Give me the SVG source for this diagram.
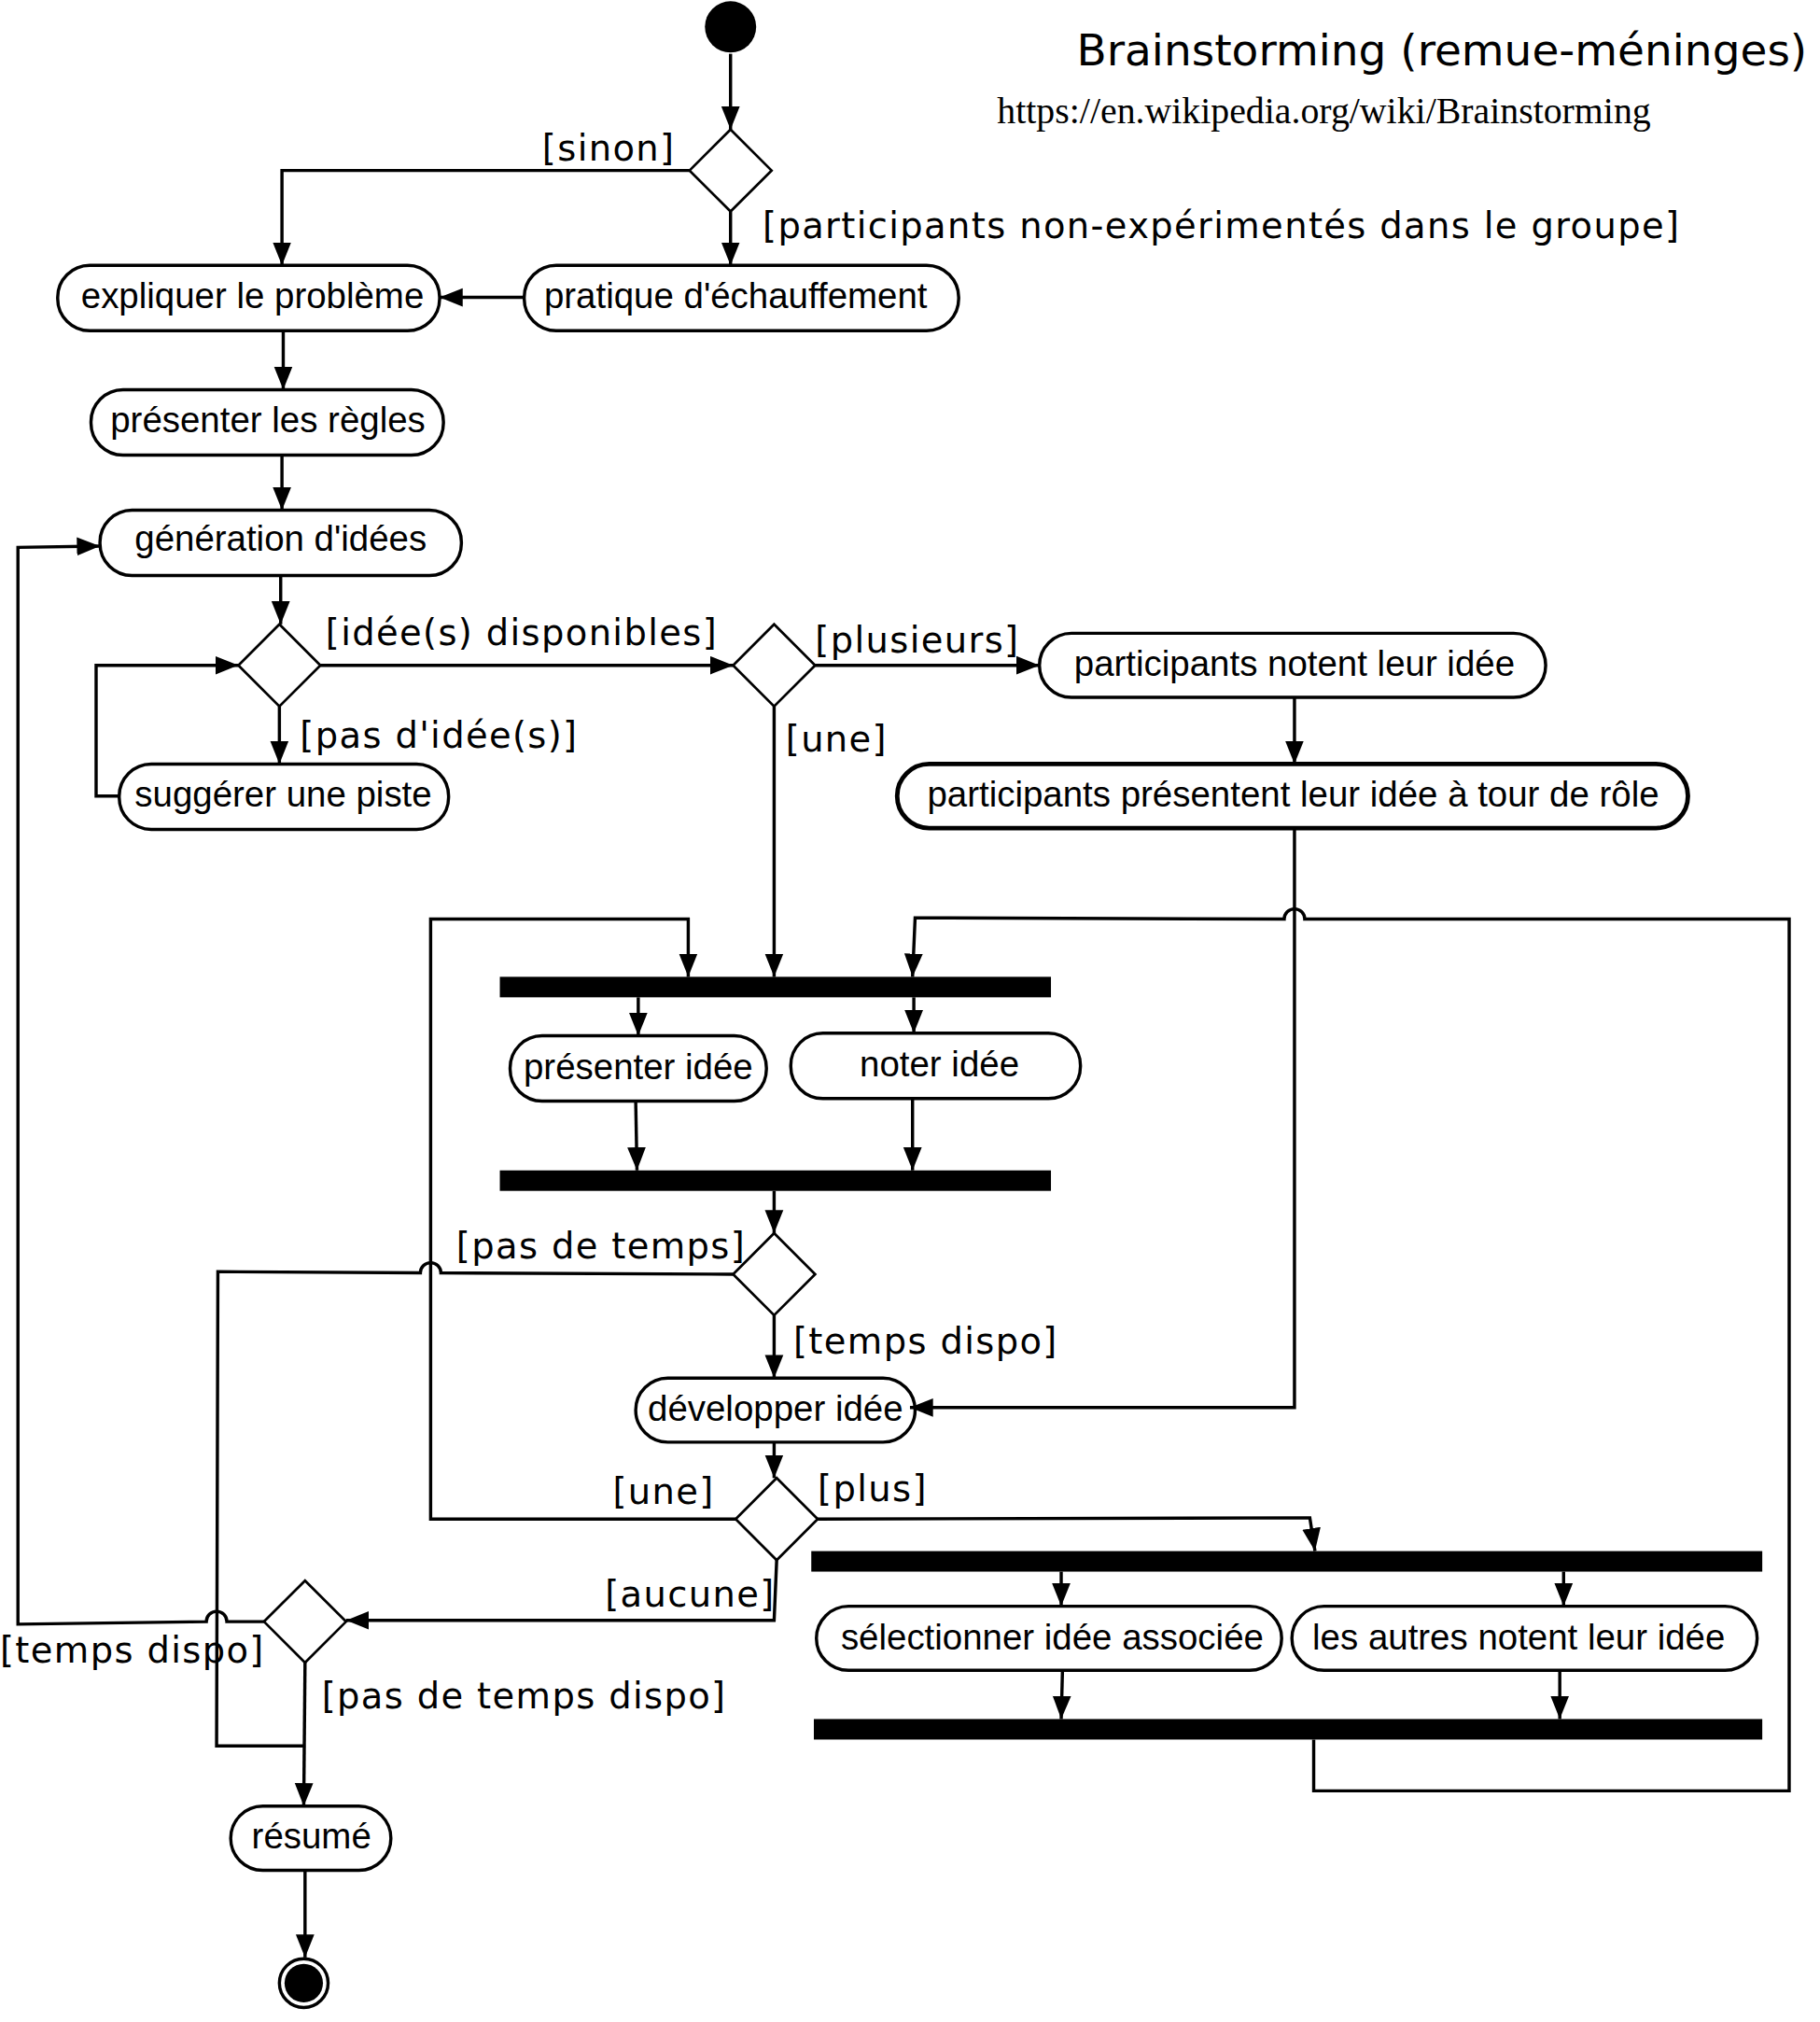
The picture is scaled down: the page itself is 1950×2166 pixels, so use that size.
<svg xmlns="http://www.w3.org/2000/svg" width="1950" height="2166" viewBox="0 0 1950 2166">
<style>
.n rect{fill:#fff;stroke:#000;stroke-width:2.5}
.n text{font-family:"Liberation Sans",Arial,sans-serif;font-size:28px;text-anchor:middle}
.l{font-family:"DejaVu Sans",sans-serif;font-size:28px;letter-spacing:1px}
.c path{fill:none;stroke:#000;stroke-width:2.5}
.d{fill:#fff;stroke:#000;stroke-width:2}
.bar{fill:#000}
</style>
<defs>
<marker id="A" viewBox="0 0 10 10" refX="10" refY="5" markerWidth="18" markerHeight="18" markerUnits="userSpaceOnUse" orient="auto"><path d="M0,1L10,5L0,9z"/></marker></defs>
<rect width="1950" height="2166" fill="#fff"/>
<g transform="scale(1.3732)">
<text x="840" y="51" font-family="DejaVu Sans,sans-serif" font-size="34" textLength="570" lengthAdjust="spacingAndGlyphs">Brainstorming (remue-méninges)</text>
<text x="778" y="96" font-family="Liberation Serif,serif" font-size="29">https://en.wikipedia.org/wiki/Brainstorming</text>
<g id="start"><circle cx="570" cy="21" r="20"/></g>
<g id="end"><circle cx="237" cy="1547" r="19" fill="#fff" stroke="#000" stroke-width="2.5"/><circle cx="237" cy="1547" r="15"/></g>
<g id="diamonds">
<path id="d1" class="d" d="M570,101L602,133L570,165L538,133z"/>
<path id="d2" class="d" d="M218,487L250,519L218,551L186,519z"/>
<path id="d3" class="d" d="M604,487L636,519L604,551L572,519z"/>
<path id="d5" class="d" d="M604,962L636,994L604,1026L572,994z"/>
<path id="d6" class="d" d="M606,1153L638,1185L606,1217L574,1185z"/>
<path id="d7" class="d" d="M238,1233L270,1265L238,1297L206,1265z"/>
</g>
<g id="bars">
<rect class="bar" x="390" y="762" width="430" height="16"/>
<rect class="bar" x="390" y="913" width="430" height="16"/>
<rect class="bar" x="633" y="1210" width="742" height="16"/>
<rect class="bar" x="635" y="1341" width="740" height="16"/>
</g>
<g class="n" id="nodes">
<g id="n1"><rect x="45" y="207" width="298" height="51" rx="25"/><text x="197" y="240">expliquer le problème</text></g>
<g id="n2"><rect x="409" y="207" width="339" height="51" rx="25"/><text x="574" y="240">pratique d'échauffement</text></g>
<g id="n3"><rect x="71" y="304" width="275" height="51" rx="25"/><text x="209" y="337">présenter les règles</text></g>
<g id="n4"><rect x="78" y="398" width="282" height="51" rx="25"/><text x="219" y="430">génération d'idées</text></g>
<g id="n5"><rect x="93" y="596" width="257" height="51" rx="25"/><text x="221" y="629">suggérer une piste</text></g>
<g id="n6"><rect x="811" y="494" width="395" height="50" rx="25"/><text x="1010" y="527">participants notent leur idée</text></g>
<g id="n7"><rect x="700" y="596" width="617" height="50" rx="25" style="stroke-width:3.5"/><text x="1009" y="629">participants présentent leur idée à tour de rôle</text></g>
<g id="n8"><rect x="398" y="808" width="200" height="51" rx="25"/><text x="498" y="842">présenter idée</text></g>
<g id="n9"><rect x="617" y="806" width="226" height="51" rx="25"/><text x="733" y="840">noter idée</text></g>
<g id="n10"><rect x="496" y="1075" width="218" height="50" rx="25"/><text x="605" y="1108">développer idée</text></g>
<g id="n11"><rect x="637" y="1253" width="363" height="50" rx="25"/><text x="821" y="1287">sélectionner idée associée</text></g>
<g id="n12"><rect x="1008" y="1253" width="363" height="50" rx="25"/><text x="1185" y="1287">les autres notent leur idée</text></g>
<g id="n13"><rect x="180" y="1409" width="125" height="50" rx="25"/><text x="243" y="1442">résumé</text></g>
</g>
<g class="c" id="connectors">
<path d="M570,42L570,101" marker-end="url(#A)"/>
<path d="M538,133L220,133L220,207" marker-end="url(#A)"/>
<path d="M570,165L570,207" marker-end="url(#A)"/>
<path d="M409,232L343,232" marker-end="url(#A)"/>
<path d="M221,258L221,304" marker-end="url(#A)"/>
<path d="M220,355L220,398" marker-end="url(#A)"/>
<path d="M219,449L219,487" marker-end="url(#A)"/>
<path d="M250,519L572,519" marker-end="url(#A)"/>
<path d="M218,551L218,596" marker-end="url(#A)"/>
<path d="M93,621L75,621L75,519L186,519" marker-end="url(#A)"/>
<path d="M636,519L811,519" marker-end="url(#A)"/>
<path d="M1010,544L1010,596" marker-end="url(#A)"/>
<path d="M604,551L604,762" marker-end="url(#A)"/>
<path d="M1010,646L1010,1098L710,1098" marker-end="url(#A)"/>
<path d="M1025,1357L1025,1397L1396,1397L1396,717L1018,717A8,8 0 0 0 1002,717L714,716L712,762" marker-end="url(#A)"/>
<path d="M574,1185L336,1185L336,717L537,717L537,762" marker-end="url(#A)"/>
<path d="M498,778L498,808" marker-end="url(#A)"/>
<path d="M713,778L713,806" marker-end="url(#A)"/>
<path d="M496,859L497,913" marker-end="url(#A)"/>
<path d="M712,857L712,913" marker-end="url(#A)"/>
<path d="M604,929L604,962" marker-end="url(#A)"/>
<path d="M572,994L344,993A8,8 0 0 0 328,993L170,992L169,1362L237,1362"/>
<path d="M604,1026L604,1075" marker-end="url(#A)"/>
<path d="M604,1125L604,1153" marker-end="url(#A)"/>
<path d="M638,1185L1022,1184L1026,1210" marker-end="url(#A)"/>
<path d="M606,1217L604,1264L270,1264" marker-end="url(#A)"/>
<path d="M206,1265L177,1265A8,8 0 0 0 161,1265L14,1267L14,427L78,426" marker-end="url(#A)"/>
<path d="M238,1297L237,1409" marker-end="url(#A)"/>
<path d="M238,1459L238,1527" marker-end="url(#A)"/>
<path d="M828,1226L828,1253" marker-end="url(#A)"/>
<path d="M1220,1226L1220,1253" marker-end="url(#A)"/>
<path d="M829,1303L828,1341" marker-end="url(#A)"/>
<path d="M1217,1303L1217,1341" marker-end="url(#A)"/>
</g>
<g id="labels">
<text x="423" y="125" class="l">[sinon]</text>
<text x="595" y="186" class="l">[participants non-expérimentés dans le groupe]</text>
<text x="254" y="503" class="l">[idée(s) disponibles]</text>
<text x="234" y="583" class="l">[pas d'idée(s)]</text>
<text x="636" y="509" class="l">[plusieurs]</text>
<text x="613" y="586" class="l">[une]</text>
<text x="356" y="982" class="l">[pas de temps]</text>
<text x="619" y="1056" class="l">[temps dispo]</text>
<text x="478" y="1173" class="l">[une]</text>
<text x="638" y="1171" class="l">[plus]</text>
<text x="472" y="1253" class="l">[aucune]</text>
<text x="0" y="1297" class="l">[temps dispo]</text>
<text x="251" y="1333" class="l">[pas de temps dispo]</text>
</g>
</g>
</svg>
